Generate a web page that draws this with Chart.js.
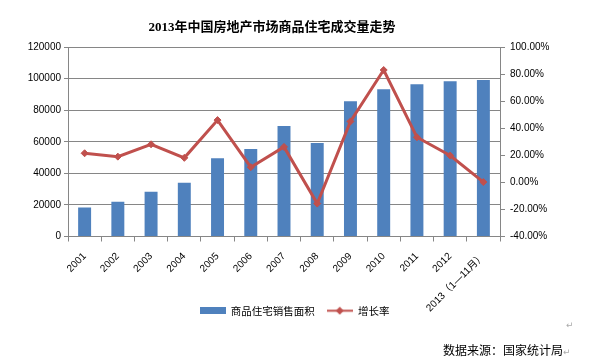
<!DOCTYPE html>
<html><head><meta charset="utf-8">
<script src="https://cdn.jsdelivr.net/npm/chart.js@4/dist/chart.umd.min.js"></script>
<style>
html,body{margin:0;padding:0;background:#fff;}
#wrap{position:relative;width:589px;height:362px;overflow:hidden;}
#title{position:absolute;left:0;width:544px;top:16px;text-align:center;font:bold 13px "Liberation Serif","Noto Sans CJK SC",serif;color:#000;}
#src{position:absolute;left:443px;top:341px;font:12px "Noto Sans CJK SC",sans-serif;color:#000;white-space:nowrap;}
.ret{color:#aaa;font:9px "DejaVu Sans",sans-serif;}
#ret1{position:absolute;left:566px;top:320px;}
canvas{position:absolute;left:0;top:0;}
</style></head>
<body><div id="wrap">
<canvas id="c" width="589" height="362"></canvas>
<div id="title">2013年中国房地产市场商品住宅成交量走势</div>
<div id="ret1" class="ret">↵</div>
<div id="src">数据来源：国家统计局<span class="ret">↵</span></div>
</div>
<script>
const categories = ['2001','2002','2003','2004','2005','2006','2007','2008','2009','2010','2011','2012','2013（1—11月）'];
const salesArea = [18300, 22000, 28400, 34000, 49600, 55400, 69900, 59200, 85700, 93200, 96400, 98300, 99100];
const growthRate = [21.5, 19.0, 28.1, 18.1, 46.0, 11.2, 26.2, -15.7, 45.0, 83.0, 33.3, 19.8, 0.2];
const seriesNames = ['商品住宅销售面积', '增长率'];
const leftTicks = [0, 20000, 40000, 60000, 80000, 100000, 120000];
const rightTicks = [-40, -20, 0, 20, 40, 60, 80, 100];

const BLUE = '#4F81BD', RED = '#C0504D', GRID = '#868686';

function barIcon(){
  const c = document.createElement('canvas'); c.width = 26; c.height = 7;
  const x = c.getContext('2d'); x.fillStyle = BLUE; x.fillRect(0,0,26,7); return c;
}
function lineIcon(){
  const c = document.createElement('canvas'); c.width = 26; c.height = 9;
  const x = c.getContext('2d'); x.strokeStyle = RED; x.lineWidth = 2;
  x.beginPath(); x.moveTo(0,4.5); x.lineTo(26,4.5); x.stroke();
  x.fillStyle = RED; x.beginPath(); x.moveTo(13,0.5); x.lineTo(17,4.5); x.lineTo(13,8.5); x.lineTo(9,4.5); x.closePath(); x.fill();
  return c;
}
const icons = [barIcon(), lineIcon()];
const FONT = '"Liberation Sans","Noto Sans CJK SC",sans-serif';

new Chart(document.getElementById('c'), {
  data: {
    labels: categories,
    datasets: [
      { type:'bar', label: seriesNames[0], data: salesArea, backgroundColor: BLUE, yAxisID:'y', order: 2,
        barPercentage: 0.39, categoryPercentage: 1.0 },
      { type:'line', label: seriesNames[1], data: growthRate, yAxisID:'y1', order: 1,
        borderColor: RED, backgroundColor: RED, borderWidth: 3, pointStyle:'rectRot', pointRadius: 3.5,
        pointBorderWidth: 1, pointBackgroundColor: RED, pointBorderColor: RED, tension: 0 }
    ]
  },
  options: {
    responsive:false, animation:false,
    layout:{ padding:{ top:47, bottom:36, left:0, right:0 } },
    plugins:{
      title:{display:false},
      tooltip:{enabled:false},
      legend:{ position:'bottom',
        labels:{ usePointStyle:true, pointStyleWidth:26, boxHeight:9, padding:12, color:'#000',
          font:{ family:'"Noto Sans CJK SC",sans-serif', size:10.5 },
          generateLabels: () => seriesNames.map((n,i)=>({ text:n, pointStyle: icons[i], fillStyle:'transparent', strokeStyle:'transparent', lineWidth:0, hidden:false, datasetIndex:i, fontColor:'#000' }))
        }
      }
    },
    scales:{
      x:{ grid:{ drawOnChartArea:false, color:GRID, tickLength:5, offset:true },
          border:{ color:GRID, width:1 },
          ticks:{ color:'#000', font:{family:FONT, size:10}, minRotation:45, maxRotation:45, autoSkip:false, padding:9 },
          afterFit: s => { s.height = 57; s._computeLabelArea = () => undefined; } },
      y:{ position:'left', min:0, max:120000,
          afterBuildTicks: s => { s.ticks = leftTicks.map(v=>({value:v})); },
          grid:{ color:GRID, lineWidth:1, tickLength:4 },
          border:{ color:GRID, width:1 },
          ticks:{ color:'#000', font:{family:FONT, size:10}, padding:3, callback: v => String(v) },
          afterFit: s => { s.width = 68; } },
      y1:{ position:'right', min:-40, max:100,
          afterBuildTicks: s => { s.ticks = rightTicks.map(v=>({value:v})); },
          grid:{ drawOnChartArea:false, color:GRID, tickLength:5 },
          border:{ color:GRID, width:1 },
          ticks:{ color:'#000', font:{family:FONT, size:10}, padding:5, callback: v => v.toFixed(2) + '%' },
          afterFit: s => { s.width = 89; } }
    }
  }
});
</script>
</body></html>
